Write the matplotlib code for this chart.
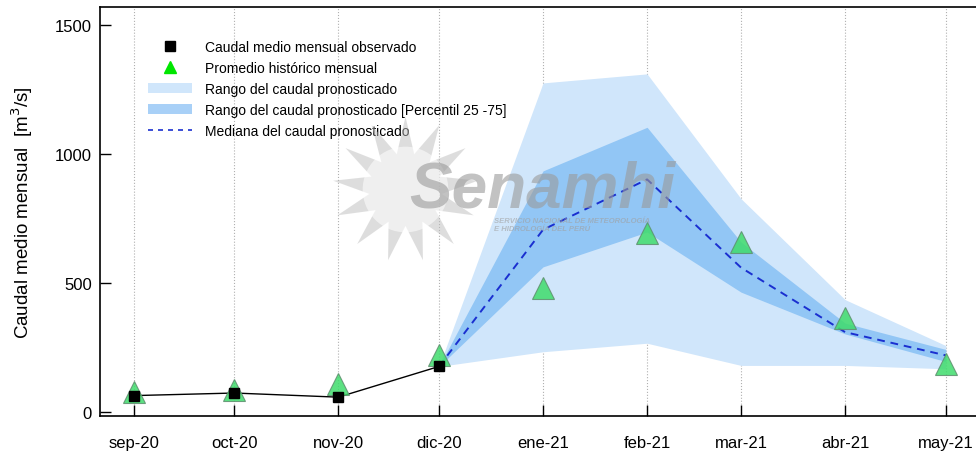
import numpy as np
import pandas as pd
import matplotlib
matplotlib.use("Agg")
import matplotlib.pyplot as plt
from matplotlib.lines import Line2D
from matplotlib.patches import Patch

plt.rcParams["font.family"] = ["Liberation Sans", "DejaVu Sans"]

# Monthly labels and values
month_labels = ["sep-20", "oct-20", "nov-20", "dic-20", "ene-21",
                "feb-21", "mar-21", "abr-21", "may-21"]
months = pd.date_range("2020-09-01", periods=9, freq="MS")

observed = [64, 74, 58, 177]                      # sep-20 .. dic-20
historical = [77, 85, 108, 222, 481, 696, 660, 365, 186]

# forecast starts at dic-20 (last observed value)
fc_months = months[3:]
fc_median = [177, 707, 902, 560, 310, 220]
fc_p25 = [177, 563, 698, 465, 303, 196]
fc_p75 = [177, 935, 1104, 659, 345, 243]
fc_min = [177, 234, 267, 181, 181, 168]
fc_max = [177, 1276, 1311, 827, 436, 258]

fig = plt.figure(figsize=(9.76, 4.6), dpi=100)
ax = fig.add_axes([0.1025, 0.0935, 0.8975, 0.889])

ax.fill_between(fc_months, fc_min, fc_max, color="#d0e6fb", lw=0, zorder=1)
ax.fill_between(fc_months, fc_p25, fc_p75, color="#92c6f5", lw=0, zorder=2)
ax.plot(fc_months, fc_median, color="#1a2fd0", lw=1.4, ls=(0, (4, 3)), zorder=3)

ax.plot(months[:4], observed, color="black", lw=1.0, zorder=4)
ax.plot(months, historical, ls="none", marker="^", ms=16,
        mfc="#3fdc6c", mec="#5f8f6f", mew=0.8, alpha=0.85, zorder=5)
ax.plot(months[:4], observed, ls="none", marker="s", ms=6.5,
        color="black", zorder=6)

# watermark (Senamhi logo)
ax.scatter([0.348], [0.556], s=11000, marker=(13, 1, 0), color="#bdbdbd",
           alpha=0.5, transform=ax.transAxes, zorder=7, lw=0)
ax.scatter([0.348], [0.556], s=3800, marker="o", color="white",
           alpha=0.55, transform=ax.transAxes, zorder=7, lw=0)
ax.text(0.505, 0.555, "Senamhi", transform=ax.transAxes, fontsize=46,
        fontweight="bold", style="italic", color="#9a9a9a", alpha=0.6,
        ha="center", va="center", zorder=8)
ax.text(0.45, 0.468, "SERVICIO NACIONAL DE METEOROLOGÍA\nE HIDROLOGÍA DEL PERÚ",
        transform=ax.transAxes, fontsize=5.5, fontweight="bold",
        style="italic", color="#a0a0a0", alpha=0.6, ha="left", va="center",
        linespacing=1.1, zorder=8)

ax.set_xlim(pd.Timestamp("2020-08-22"), pd.Timestamp("2021-05-10"))
ax.set_ylim(-15, 1570)
ax.set_yticks([0, 500, 1000, 1500])
ax.set_xticks(months)
ax.set_xticklabels(month_labels)
ax.tick_params(direction="in", length=8, width=1, labelsize=12, colors="black")
ax.tick_params(axis="x", pad=14)
ax.tick_params(axis="y", pad=6)
ax.grid(True, axis="x", color="#b0b0b0", ls=":", lw=0.8)
ax.set_axisbelow(True)
ax.spines["right"].set_visible(False)
for s in ["left", "bottom", "top"]:
    ax.spines[s].set_linewidth(1.2)

ax.set_ylabel("Caudal medio mensual  [m$^3$/s]", fontsize=13.5, labelpad=14)

handles = [
    Line2D([], [], ls="none", marker="s", ms=6.5, color="black"),
    Line2D([], [], ls="none", marker="^", ms=9, color="#00e600"),
    Patch(facecolor="#d0e6fb", edgecolor="none"),
    Patch(facecolor="#a8d0f7", edgecolor="none"),
    Line2D([], [], color="#1a2fd0", lw=1.2, ls=(0, (3, 3))),
]
labels = [
    "Caudal medio mensual observado",
    "Promedio histórico mensual",
    "Rango del caudal pronosticado",
    "Rango del caudal pronosticado [Percentil 25 -75]",
    "Mediana del caudal pronosticado",
]
ax.legend(handles, labels, loc="upper left", bbox_to_anchor=(0.04, 0.95),
          frameon=False, fontsize=10, handlelength=3.2, labelspacing=0.5,
          handletextpad=0.9)

fig.savefig("out.png", dpi=100)
